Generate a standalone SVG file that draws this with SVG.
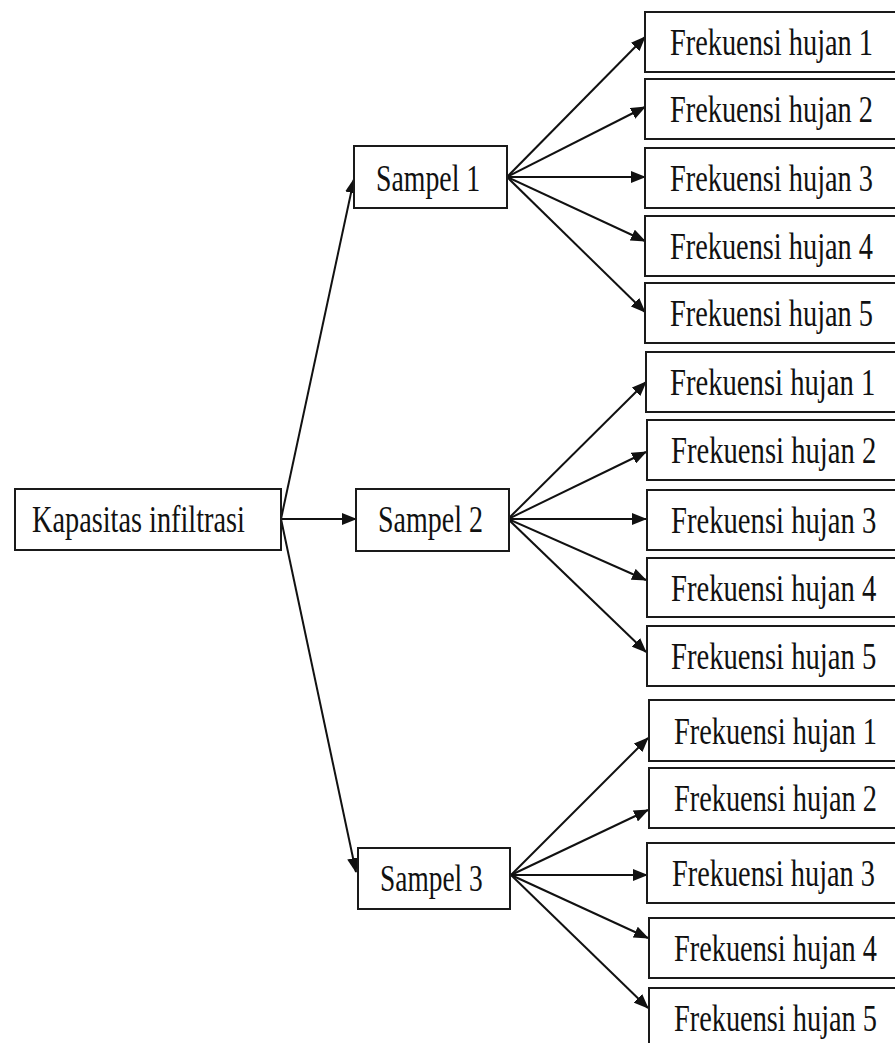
<svg xmlns="http://www.w3.org/2000/svg" width="895" height="1043" viewBox="0 0 895 1043">
<style>
.box{fill:#fff;stroke:#1a1a1a;stroke-width:2}
.lbl{font-family:"Liberation Serif","Times New Roman",serif;font-size:37px;fill:#111}
.con{stroke:#111;stroke-width:2;fill:none;marker-end:url(#ah)}
</style>
<defs>
<marker id="ah" markerUnits="userSpaceOnUse" markerWidth="15" markerHeight="12" refX="14" refY="6" orient="auto">
<path d="M0,0 L15,6 L0,12 Z" fill="#111"/>
</marker>
</defs>
<rect width="895" height="1043" fill="#fff"/>
<g id="connectors">
<line class="con" x1="281" y1="519" x2="354" y2="179"/>
<line class="con" x1="281" y1="519" x2="356" y2="519"/>
<line class="con" x1="281" y1="519" x2="356" y2="872"/>
<line class="con" x1="507" y1="177" x2="645" y2="37"/>
<line class="con" x1="507" y1="177" x2="645" y2="107"/>
<line class="con" x1="507" y1="177" x2="645" y2="177"/>
<line class="con" x1="507" y1="177" x2="645" y2="241"/>
<line class="con" x1="507" y1="177" x2="645" y2="312"/>
<line class="con" x1="508" y1="519" x2="646" y2="382"/>
<line class="con" x1="508" y1="519" x2="646" y2="452"/>
<line class="con" x1="508" y1="519" x2="646" y2="519"/>
<line class="con" x1="508" y1="519" x2="646" y2="580"/>
<line class="con" x1="508" y1="519" x2="646" y2="652"/>
<line class="con" x1="511" y1="875" x2="648" y2="738"/>
<line class="con" x1="511" y1="875" x2="648" y2="810"/>
<line class="con" x1="511" y1="875" x2="647" y2="875"/>
<line class="con" x1="511" y1="875" x2="648" y2="938"/>
<line class="con" x1="511" y1="875" x2="648" y2="1008"/>
</g>
<g id="kapasitas"><rect class="box" x="15" y="489" width="266" height="61"/><text class="lbl" transform="translate(32,532) scale(0.766,1)" textLength="278" lengthAdjust="spacingAndGlyphs">Kapasitas infiltrasi</text></g>
<g id="sampel1"><rect class="box" x="354" y="146" width="153" height="62"/><text class="lbl" transform="translate(376,191) scale(0.75,1)" textLength="139" lengthAdjust="spacingAndGlyphs">Sampel 1</text></g>
<g id="sampel2"><rect class="box" x="356" y="489" width="153" height="62"/><text class="lbl" transform="translate(378,532) scale(0.75,1)" textLength="140" lengthAdjust="spacingAndGlyphs">Sampel 2</text></g>
<g id="sampel3"><rect class="box" x="358" y="848" width="152" height="61"/><text class="lbl" transform="translate(380,891) scale(0.75,1)" textLength="137" lengthAdjust="spacingAndGlyphs">Sampel 3</text></g>
<g id="s1f1"><rect class="box" x="645" y="12" width="260" height="60"/><text class="lbl" transform="translate(670,55) scale(0.766,1)" textLength="265" lengthAdjust="spacingAndGlyphs">Frekuensi hujan 1</text></g>
<g id="s1f2"><rect class="box" x="645" y="79" width="260" height="60"/><text class="lbl" transform="translate(670,122) scale(0.766,1)" textLength="265" lengthAdjust="spacingAndGlyphs">Frekuensi hujan 2</text></g>
<g id="s1f3"><rect class="box" x="645" y="148" width="260" height="60"/><text class="lbl" transform="translate(670,191) scale(0.766,1)" textLength="265" lengthAdjust="spacingAndGlyphs">Frekuensi hujan 3</text></g>
<g id="s1f4"><rect class="box" x="645" y="216" width="260" height="60"/><text class="lbl" transform="translate(670,259) scale(0.766,1)" textLength="265" lengthAdjust="spacingAndGlyphs">Frekuensi hujan 4</text></g>
<g id="s1f5"><rect class="box" x="645" y="283" width="260" height="60"/><text class="lbl" transform="translate(670,326) scale(0.766,1)" textLength="265" lengthAdjust="spacingAndGlyphs">Frekuensi hujan 5</text></g>
<g id="s2f1"><rect class="box" x="646" y="352" width="260" height="60"/><text class="lbl" transform="translate(670,395) scale(0.766,1)" textLength="268" lengthAdjust="spacingAndGlyphs">Frekuensi hujan 1</text></g>
<g id="s2f2"><rect class="box" x="647" y="420" width="260" height="60"/><text class="lbl" transform="translate(671,463) scale(0.766,1)" textLength="268" lengthAdjust="spacingAndGlyphs">Frekuensi hujan 2</text></g>
<g id="s2f3"><rect class="box" x="647" y="490" width="260" height="60"/><text class="lbl" transform="translate(671,533) scale(0.766,1)" textLength="268" lengthAdjust="spacingAndGlyphs">Frekuensi hujan 3</text></g>
<g id="s2f4"><rect class="box" x="647" y="558" width="260" height="59"/><text class="lbl" transform="translate(671,601) scale(0.766,1)" textLength="268" lengthAdjust="spacingAndGlyphs">Frekuensi hujan 4</text></g>
<g id="s2f5"><rect class="box" x="647" y="626" width="260" height="60"/><text class="lbl" transform="translate(671,669) scale(0.766,1)" textLength="268" lengthAdjust="spacingAndGlyphs">Frekuensi hujan 5</text></g>
<g id="s3f1"><rect class="box" x="649" y="700" width="260" height="61"/><text class="lbl" transform="translate(674,744) scale(0.766,1)" textLength="265" lengthAdjust="spacingAndGlyphs">Frekuensi hujan 1</text></g>
<g id="s3f2"><rect class="box" x="649" y="768" width="260" height="60"/><text class="lbl" transform="translate(674,811) scale(0.766,1)" textLength="265" lengthAdjust="spacingAndGlyphs">Frekuensi hujan 2</text></g>
<g id="s3f3"><rect class="box" x="647" y="843" width="260" height="60"/><text class="lbl" transform="translate(672,886) scale(0.766,1)" textLength="265" lengthAdjust="spacingAndGlyphs">Frekuensi hujan 3</text></g>
<g id="s3f4"><rect class="box" x="649" y="918" width="260" height="60"/><text class="lbl" transform="translate(674,961) scale(0.766,1)" textLength="265" lengthAdjust="spacingAndGlyphs">Frekuensi hujan 4</text></g>
<g id="s3f5"><rect class="box" x="649" y="988" width="260" height="60"/><text class="lbl" transform="translate(674,1031) scale(0.766,1)" textLength="265" lengthAdjust="spacingAndGlyphs">Frekuensi hujan 5</text></g>
</svg>
